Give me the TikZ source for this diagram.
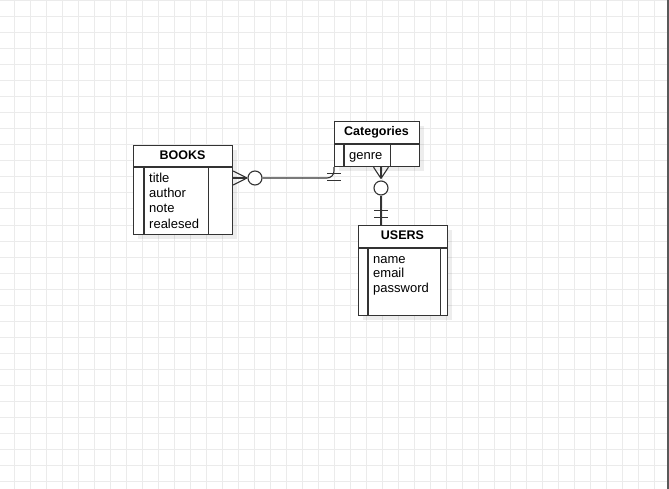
\documentclass[tikz,border=0pt]{standalone}
\usepackage{fontspec}
\setmainfont{Liberation Sans}
\begin{document}
\begin{tikzpicture}[x=1pt,y=-1pt,
    ent/.style={draw=black!80,line width=1.1pt,fill=white,inner sep=0pt,anchor=north west},
    shade/.style={fill=black,opacity=0.07,inner sep=0pt,anchor=north west},
    head/.style={font=\bfseries\fontsize{12.5}{15}\selectfont,inner sep=0pt,anchor=base},
    attr/.style={font=\fontsize{13}{15}\selectfont,inner sep=0pt,anchor=base west},
    rel/.style={draw=black!80,line width=1.1pt},
    ring/.style={circle,draw=black!80,line width=1.1pt,fill=white,minimum size=14pt,inner sep=0pt},
    gridline/.style={draw=black!8,line width=1pt}]
  \useasboundingbox (0,0) rectangle (669,489);
  \fill[white] (0,0) rectangle (669,489);
  % background grid
  \foreach \x in {14,30,...,654} \draw[gridline] (\x,0) -- (\x,489);
  \foreach \y in {1,17,...,481} \draw[gridline] (0,\y) -- (669,\y);
  \draw[draw=black!65,line width=2pt] (668,0) -- (668,489);

  % shadows
  \node[shade,minimum width=99pt,minimum height=89pt] (booksshade) at (138,150) {};
  \node[shade,minimum width=85pt,minimum height=45pt] (catsshade) at (339,126) {};
  \node[shade,minimum width=89pt,minimum height=90pt] (usersshade) at (363,230) {};

  % entities
  \node[ent,minimum width=99pt,minimum height=89pt] (books) at (133,145) {};
  \node[ent,minimum width=85pt,minimum height=45pt] (cats) at (334,121) {};
  \node[ent,minimum width=89pt,minimum height=90pt] (users) at (358,225) {};

  \begin{scope}[rel]
    \draw ([yshift=-22pt]books.north west) -- ([yshift=-22pt]books.north east);
    \draw ([xshift=11pt,yshift=-22pt]books.north west) -- ([xshift=11pt]books.south west);
    \draw ([xshift=-25pt,yshift=-22pt]books.north east) -- ([xshift=-25pt]books.south east);
    \draw ([yshift=-23pt]cats.north west) -- ([yshift=-23pt]cats.north east);
    \draw ([xshift=10pt,yshift=-23pt]cats.north west) -- ([xshift=10pt]cats.south west);
    \draw ([xshift=-30pt,yshift=-23pt]cats.north east) -- ([xshift=-30pt]cats.south east);
    \draw ([yshift=-23pt]users.north west) -- ([yshift=-23pt]users.north east);
    \draw ([xshift=10pt,yshift=-23pt]users.north west) -- ([xshift=10pt]users.south west);
    \draw ([xshift=-8pt,yshift=-23pt]users.north east) -- ([xshift=-8pt]users.south east);
  \end{scope}

  \draw
    (182.5,159.5) node[head] (bookshead) {BOOKS}
    (376.5,135.7) node[head] (catshead) {Categories}
    (402.5,240) node[head] (usershead) {USERS};
  \draw
    (149,183) node[attr] (title) {title}
    (149,198) node[attr] (author) {author}
    (149,213) node[attr] (note) {note}
    (149,228) node[attr] (realesed) {realesed}
    (349,159.5) node[attr] (genre) {genre}
    (373,263) node[attr] (name) {name}
    (373,277.8) node[attr] (email) {email}
    (373,292.5) node[attr] (password) {password};

  % BOOKS -- Categories
  \node[ring] (bookring) at (255,178) {};
  \coordinate (bookfoot) at (247,178);
  \coordinate (bookend) at (books.east |- bookring);
  \begin{scope}[rel]
    \draw ([yshift=7pt]bookend) -- (bookfoot);
    \draw ([yshift=-7pt]bookend) -- (bookfoot);
    \draw (bookend) -- (bookfoot);
    \draw[rounded corners=7pt] (bookring.east) -- (cats.south west |- bookring) -- (cats.south west);
    \draw ([xshift=-7pt,yshift=-6.5pt]cats.south west) -- ([xshift=7pt,yshift=-6.5pt]cats.south west);
    \draw ([xshift=-7pt,yshift=-13.5pt]cats.south west) -- ([xshift=7pt,yshift=-13.5pt]cats.south west);
  \end{scope}

  % Categories -- USERS
  \node[ring] (catring) at (381,188) {};
  \coordinate (catfoot) at (381,178.5);
  \coordinate (catend) at (cats.south -| catring);
  \coordinate (userend) at (users.north -| catring);
  \begin{scope}[rel]
    \draw ([xshift=-7.5pt]catend) -- (catfoot);
    \draw ([xshift=7.5pt]catend) -- (catfoot);
    \draw (catend) -- (catfoot);
    \draw (catring.south) -- (userend);
    \draw ([xshift=-7pt,yshift=14.5pt]userend) -- ([xshift=7pt,yshift=14.5pt]userend);
    \draw ([xshift=-7pt,yshift=7.7pt]userend) -- ([xshift=7pt,yshift=7.7pt]userend);
  \end{scope}
\end{tikzpicture}
\end{document}
